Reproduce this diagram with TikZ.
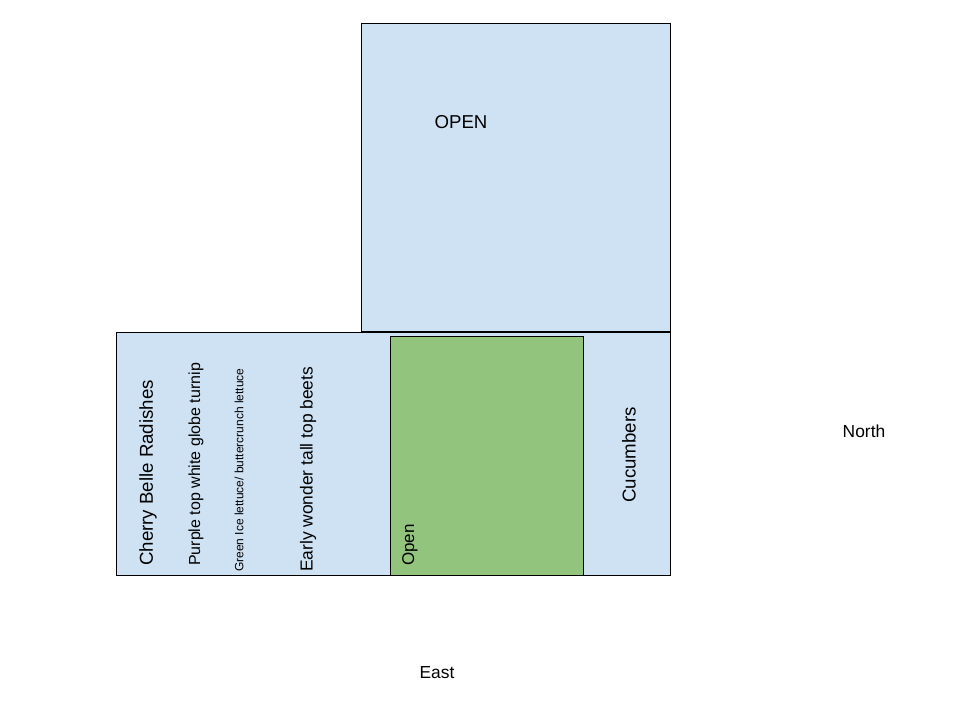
\documentclass[tikz,border=0pt]{standalone}
\usepackage{fontspec}
\setmainfont{Liberation Sans}
\definecolor{bedblue}{HTML}{CFE2F3}
\definecolor{bedgreen}{HTML}{93C47D}
\begin{document}
\begin{tikzpicture}[x=1pt,y=-1pt,
  bed/.style={draw=black, line width=0.8pt},
  lbl/.style={inner sep=0pt, font=\fontsize{18.67}{22}\selectfont},
  row/.style={lbl, rotate=90, anchor=west}]
\useasboundingbox (0,0) rectangle (960,720);
% beds
\draw[bed, fill=bedblue] (361,23) rectangle (670,331);
\draw[bed, fill=bedblue] (116,332) rectangle (670,575);
\draw[bed, fill=bedgreen] (390,336) rectangle (583,575);
% labels
\node[lbl] (open) at (461,122) {OPEN};
\node[row] (radish) at (148,566) {Cherry Belle Radishes};
\node[row, font=\fontsize{16}{19}\selectfont] (turnip) at (196,566) {Purple top white globe turnip};
\node[row, font=\fontsize{12}{14}\selectfont] (lettuce) at (239,572) {Green Ice lettuce/ buttercrunch lettuce};
\node[row, font=\fontsize{17.4}{20}\selectfont] (beets) at (308,572) {Early wonder tall top beets};
\node[row, font=\fontsize{17}{20}\selectfont] (openrow) at (410,566) {Open};
\node[lbl, rotate=90] (cucumber) at (629,455) {Cucumbers};
\node[lbl, font=\fontsize{17.4}{20}\selectfont] (north) at (864,431) {North};
\node[lbl, font=\fontsize{17.4}{20}\selectfont] (east) at (437,673) {East};
\end{tikzpicture}
\end{document}
